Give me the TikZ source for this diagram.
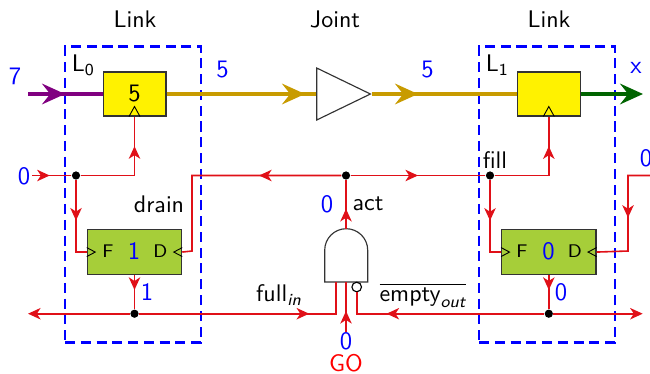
\documentclass[tikz,border=0pt]{standalone}
\usepackage{amsmath}
\usepackage{xcolor}
\usepackage{tikz}
\usetikzlibrary{arrows.meta,positioning,shapes.geometric,decorations.markings}
\definecolor{wire}{HTML}{E01018}
\definecolor{gold}{HTML}{C89B00}
\definecolor{purp}{HTML}{800080}
\definecolor{dgreen}{HTML}{006400}
\definecolor{regfill}{HTML}{FFF200}
\definecolor{fcfill}{HTML}{A6CE39}

\begin{document}
\begin{tikzpicture}[
  x=0.4375pt, y=-0.4375pt,
  font=\sffamily\fontsize{10.5}{12}\selectfont,
  regbox/.style={draw=black!80, fill=regfill, line width=0.5pt, minimum width=27.5pt, minimum height=19.2pt, inner sep=0pt, font=\sffamily\fontsize{11}{13}\selectfont},
  fcbox/.style={draw=black!80, fill=fcfill, line width=0.5pt, minimum width=41.3pt, minimum height=19.5pt, inner sep=0pt},
  linkbox/.style={draw=blue, line width=1pt, dash pattern=on 4.4pt off 2.5pt, minimum width=59.5pt, minimum height=129.5pt},
  val/.style={text=blue, font=\sffamily\fontsize{11}{13}\selectfont, inner sep=0pt},
  tag/.style={inner sep=0pt},
  flag/.style={inner sep=0pt, font=\sffamily\footnotesize},
  dot/.style={circle, fill=black, inner sep=0pt, minimum size=3.6pt},
  clk/.style={draw=black, line width=0.4pt},
  bus/.style={line width=2pt, -{Stealth[length=10pt, width=9pt, inset=3.5pt]}},
  busline/.style={line width=2pt},
  rel/.style={wire, line width=0.7pt},
  tipat/.style={postaction={decorate, decoration={markings, mark=at position #1 with {\arrow[wire, line width=0.7pt]{Stealth[length=5.5pt, width=5pt, inset=1.6pt]}}}}},
  endtip/.style={-{Stealth[length=5.5pt, width=5pt, inset=1.6pt]}}
]
\useasboundingbox (0,0) rectangle (650,373);

% blocks
\node[linkbox] (link0) at (133,194.5) {};
\node[linkbox] (link1) at (547,194.5) {};
\node[regbox] (reg0) at (134.5,94) {5};
\node[regbox] (reg1) at (548.8,94) {};
\node[fcbox, below=49.3pt of reg0] (fc0) {};
\node[fcbox, below=49.3pt of reg1] (fc1) {};
\node[draw=black!80, fill=white, line width=0.5pt, isosceles triangle, isosceles triangle stretches, shape border rotate=0, minimum height=23.5pt, minimum width=22.75pt, inner sep=0pt] (joint) at (333,94) {};

% gate
\coordinate (gatetop) at (346,228.7);
\coordinate (gatefull) at (335.7,282);
\coordinate (gatego) at (346,282);
\draw[draw=black!80, fill=white, line width=0.5pt] (324.7,282) -- (324.7,250.2) arc[start angle=180, end angle=360, radius=21.5] -- (367.7,282) -- cycle;
\node[circle, draw=black, fill=white, line width=0.5pt, inner sep=0pt, minimum size=4.2pt] (bubble) at (356.7,287) {};

% junctions and free ends
\node[dot] (fork0) at (76,175.5) {};
\node[dot] (actdot) at (346,175.5) {};
\node[dot] (fork1) at (490,175.5) {};
\node[dot] (bus0) at (fc0.south |- 0,313.7) {};
\node[dot] (bus1) at (fc1.south |- 0,313.7) {};
\coordinate (in0) at (32,175.5);
\coordinate (drainbend) at (192,251);
\coordinate (drainr) at (650,175.5);
\coordinate (drainrbend) at (628,251);
\coordinate (leftend) at (28,313.7);
\coordinate (rightend) at (642.7,313.7);
\coordinate (fullbend) at (335.7,313.7);
\coordinate (emptybend) at (356.7,313.7);
\coordinate (gostart) at (346,332);
\coordinate (din) at (28,94);
\coordinate (xout) at (643,94);

% data path
\draw[busline, purp] (din) -- (reg0.west);
\draw[bus, purp] (din) -- (65,94);
\draw[busline, gold] (reg0.east) -- (joint.lower side);
\draw[bus, gold] (reg0.east) -- (305,94);
\draw[busline, gold] (joint.apex) -- (reg1.west);
\draw[bus, gold] (joint.apex) -- (418,94);
\draw[bus, dgreen] (reg1.east) -- (xout);

% control wires
\draw[rel, tipat=0.45] (in0) -- (fork0);
\draw[rel, tipat=0.737] (fork0) -| (reg0.south);
\draw[rel, tipat=0.489] (fork0) |- (fc0.west);
\draw[rel, tipat=0.351] (actdot) -| (drainbend) -- (fc0.east);
\draw[rel, tipat=0.5] (actdot) -- (fork1);
\draw[rel, tipat=0.737] (fork1) -| (reg1.south);
\draw[rel, tipat=0.489] (fork1) |- (fc1.west);
\draw[rel, tipat=0.498] (drainr) -| (drainrbend) -- (fc1.east);
\draw[rel, tipat=0.408] (gatetop) -- (actdot);
\draw[rel, tipat=0.438] (fc0.south) -- (bus0);
\draw[rel, tipat=0.438] (fc1.south) -- (bus1);
\draw[rel, endtip] (bus0) -- (leftend);
\draw[rel, tipat=0.745] (bus0) -- (fullbend) -- (gatefull);
\draw[rel, tipat=0.755] (bus1) -- (emptybend) -- (bubble.south);
\draw[rel, endtip] (bus1) -- (rightend);
\draw[rel, tipat=0.42] (gostart) -- (gatego);

% clock marks
\draw[clk] (reg0.south) ++(-5.5,0) -- ++(5.5,-10) -- ++(5.5,10);
\draw[clk] (reg1.south) ++(-5.5,0) -- ++(5.5,-10) -- ++(5.5,10);
\draw[clk] (fc0.west) ++(0,-4.5) -- ++(8.5,4.5) -- ++(-8.5,4.5);
\draw[clk] (fc0.east) ++(0,-4.5) -- ++(-8.5,4.5) -- ++(8.5,4.5);
\draw[clk] (fc1.west) ++(0,-4.5) -- ++(8.5,4.5) -- ++(-8.5,4.5);
\draw[clk] (fc1.east) ++(0,-4.5) -- ++(-8.5,4.5) -- ++(8.5,4.5);

% texts
\node[tag] (tlink0) at (135,19) {Link};
\node[tag] (tjoint) at (335,19) {Joint};
\node[tag] (tlink1) at (549,19) {Link};
\node[tag] (l0) at (83.5,65.5) {L\textsubscript{0}};
\node[tag] (l1) at (497.5,65.5) {L\textsubscript{1}};
\node[val] (v7) at (15,76) {7};
\node[val] (v5a) at (222.5,70) {5};
\node[val] (v5b) at (427.5,70) {5};
\node[val] (vx) at (636,67.5) {x};
\node[val] (vin) at (24,176) {0};
\node[val] (vdr) at (646,158) {0};
\node[tag] (tdrain) at (159,204.5) {drain};
\node[tag] (tfill) at (495,160) {fill};
\node[flag] (f0) at (108,251) {F};
\node[val] (n0) at (134,251) {1};
\node[flag] (d0) at (160.5,251) {D};
\node[flag] (f1) at (522,251) {F};
\node[val] (n1) at (548.5,251) {0};
\node[flag] (d1) at (575,251) {D};
\node[val] (v1) at (147,292) {1};
\node[val] (v0) at (561,292) {0};
\node[val] (vact) at (327,204) {0};
\node[tag] (tact) at (368,204) {act};
\node[tag] (tfull) at (279,295) {full$_{\text{\itshape in}}$};
\node[tag] (tempty) at (423,295) {$\overline{\text{empty}_{\text{\itshape out}}}$};
\node[val] (vgo) at (346,341) {0};
\node[tag, text=red] (tgo) at (346,363) {GO};
\end{tikzpicture}
\end{document}
